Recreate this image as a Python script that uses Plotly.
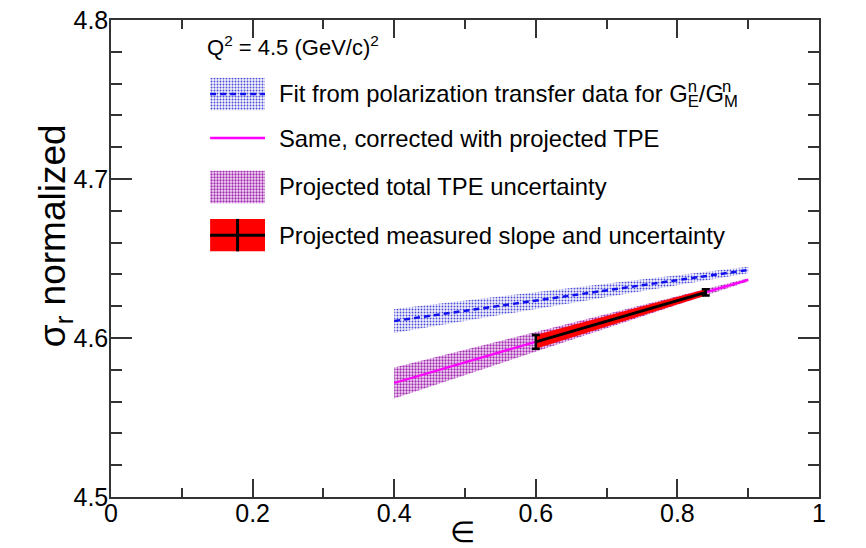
import plotly.graph_objects as go

# Fit from polarization transfer data (central value and half-width of band)
eps_fit = [0.4, 0.9]
sigma_pol = [4.6107, 4.6428]
sigma_pol_err = [0.0075, 0.0020]

# Same fit corrected with projected TPE, and total TPE uncertainty band
sigma_tpe = [4.5717, 4.6365]
sigma_tpe_err = [0.0097, 0.0010]

# Projected measured slope with its uncertainty at the end points
eps_meas = [0.6, 0.84]
sigma_meas = [4.5976, 4.6287]
sigma_meas_err = [0.0043, 0.0019]

x_ticks = [0, 0.2, 0.4, 0.6, 0.8, 1]
x_tick_text = ["0", "0.2", "0.4", "0.6", "0.8", "1"]
y_ticks = [4.5, 4.6, 4.7, 4.8]
y_tick_text = ["4.5", "4.6", "4.7", "4.8"]

FONT = "Liberation Sans, Arial, sans-serif"
BLUE_PAT = dict(shape=".", fgcolor="#4a4ad8", bgcolor="#f2f2fb", size=3, solidity=0.3, fillmode="replace")
MAG_PAT = dict(shape=".", fgcolor="#a02cb0", bgcolor="#f4dcf6", size=3, solidity=0.45, fillmode="replace")


def band(x, y, err):
    up = [v + e for v, e in zip(y, err)]
    lo = [v - e for v, e in zip(y, err)]
    return list(x) + list(x)[::-1], up + lo[::-1]


fig = go.Figure()

bx, by = band(eps_fit, sigma_pol, sigma_pol_err)
fig.add_trace(go.Scatter(x=bx, y=by, fill="toself", mode="none", fillpattern=BLUE_PAT,
                         fillcolor="rgba(0,0,0,0)", hoverinfo="skip"))
fig.add_trace(go.Scatter(x=eps_fit, y=sigma_pol, mode="lines",
                         line=dict(color="#1010f0", width=2.5, dash="6px,4px")))

tx, ty = band(eps_fit, sigma_tpe, sigma_tpe_err)
fig.add_trace(go.Scatter(x=tx, y=ty, fill="toself", mode="none", fillpattern=MAG_PAT,
                         fillcolor="rgba(0,0,0,0)", hoverinfo="skip"))
fig.add_trace(go.Scatter(x=eps_fit, y=sigma_tpe, mode="lines",
                         line=dict(color="#ff00ff", width=2.3)))

mx, my = band(eps_meas, sigma_meas, sigma_meas_err)
fig.add_trace(go.Scatter(x=mx, y=my, fill="toself", mode="none", fillcolor="#ff0000",
                         hoverinfo="skip"))
fig.add_trace(go.Scatter(x=eps_meas, y=sigma_meas, mode="lines",
                         line=dict(color="black", width=3),
                         error_y=dict(type="data", array=sigma_meas_err, color="black",
                                      thickness=2.5, width=4)))

# Legend swatches, drawn on an overlay axis spanning the plot area in [0, 1]
sw_x0, sw_x1 = 0.140, 0.2175
rows = [0.845, 0.7526, 0.650, 0.549]
half = 0.034


def box(yc):
    return [sw_x0, sw_x1, sw_x1, sw_x0, sw_x0], [yc - half, yc - half, yc + half, yc + half, yc - half]


leg = dict(xaxis="x2", yaxis="y2", hoverinfo="skip")
x, y = box(rows[0])
fig.add_trace(go.Scatter(x=x, y=y, fill="toself", mode="none", fillpattern=BLUE_PAT,
                         fillcolor="rgba(0,0,0,0)", **leg))
fig.add_trace(go.Scatter(x=[sw_x0, sw_x1], y=[rows[0], rows[0]], mode="lines",
                         line=dict(color="#1010f0", width=2.5, dash="6px,4px"), **leg))
fig.add_trace(go.Scatter(x=[sw_x0, sw_x1], y=[rows[1], rows[1]], mode="lines",
                         line=dict(color="#ff00ff", width=2.3), **leg))
x, y = box(rows[2])
fig.add_trace(go.Scatter(x=x, y=y, fill="toself", mode="none", fillpattern=MAG_PAT,
                         fillcolor="rgba(0,0,0,0)", **leg))
x, y = box(rows[3])
fig.add_trace(go.Scatter(x=x, y=y, fill="toself", mode="none", fillcolor="#ff0000", **leg))
fig.add_trace(go.Scatter(x=[sw_x0, sw_x1], y=[rows[3], rows[3]], mode="lines",
                         line=dict(color="black", width=3), **leg))
xm = (sw_x0 + sw_x1) / 2
fig.add_trace(go.Scatter(x=[xm, xm], y=[rows[3] - half, rows[3] + half], mode="lines",
                         line=dict(color="black", width=3), **leg))


def hidden(s):
    return "<span style='color:rgba(0,0,0,0)'>" + s + "</span>"


# First legend line: subscripts in one layer, superscripts stacked above them in another
fit_head = "Fit from polarization transfer data for G"
fit_sub = fit_head + "<sub>E</sub>/G<sub>M</sub><sup>" + hidden("n") + "</sup>"
fit_sup = hidden(fit_head) + "<sup>n</sup>" + hidden("/G") + "<sup>n</sup><sub>" + hidden("E") + "</sub>"

labels = [
    fit_sub,
    "Same, corrected with projected TPE",
    "Projected total TPE uncertainty",
    "Projected measured slope and uncertainty",
]
LEG_X = 0.234
LEG_SIZE = 23.8
annotations = []
for yc, txt in zip(rows, labels):
    annotations.append(dict(x=LEG_X, y=yc, xref="paper", yref="paper", text=txt, showarrow=False,
                            xanchor="left", yanchor="middle",
                            font=dict(family=FONT, size=LEG_SIZE, color="black")))
annotations.append(dict(x=LEG_X, y=rows[0], xref="paper", yref="paper", text=fit_sup, showarrow=False,
                        xanchor="left", yanchor="middle",
                        font=dict(family=FONT, size=LEG_SIZE, color="black")))
annotations.append(dict(x=0.133, y=0.946, xref="paper", yref="paper",
                        text="Q<sup>2</sup> = 4.5 (GeV/c)<sup>2</sup>", showarrow=False,
                        xanchor="left", yanchor="middle", font=dict(family=FONT, size=22, color="black")))
annotations.append(dict(x=-0.079, y=0.547, xref="paper", yref="paper",
                        text="σ<sub>r</sub> normalized", textangle=-90, showarrow=False,
                        xanchor="center", yanchor="middle", font=dict(family=FONT, size=37, color="black")))
annotations.append(dict(x=0.497, y=-0.074, xref="paper", yref="paper", text="∈", showarrow=False,
                        xanchor="center", yanchor="middle", font=dict(family=FONT, size=29, color="black")))

axis_common = dict(showgrid=False, zeroline=False, showline=True, linecolor="#333333", linewidth=1.5,
                   mirror="allticks", ticks="inside", tickcolor="#333333", tickwidth=1.5,
                   automargin=False, tickfont=dict(family=FONT, size=25, color="black"))

fig.update_layout(
    width=866, height=548,
    margin=dict(l=111, r=47, t=20, b=51),
    plot_bgcolor="white", paper_bgcolor="white",
    showlegend=False,
    annotations=annotations,
    xaxis=dict(range=[0, 1], tickvals=x_ticks, ticktext=x_tick_text, ticklen=18, ticklabelstandoff=-7,
               minor=dict(ticks="inside", dtick=0.1, ticklen=9, tickcolor="#333333", tickwidth=1.5),
               **axis_common),
    yaxis=dict(range=[4.5, 4.8], tickvals=y_ticks, ticktext=y_tick_text, ticklen=21, ticklabelstandoff=-4,
               minor=dict(ticks="inside", dtick=0.02, ticklen=11, tickcolor="#333333", tickwidth=1.5),
               **axis_common),
    xaxis2=dict(range=[0, 1], overlaying="x", visible=False),
    yaxis2=dict(range=[0, 1], overlaying="y", visible=False),
)

fig.write_html("out.html")
